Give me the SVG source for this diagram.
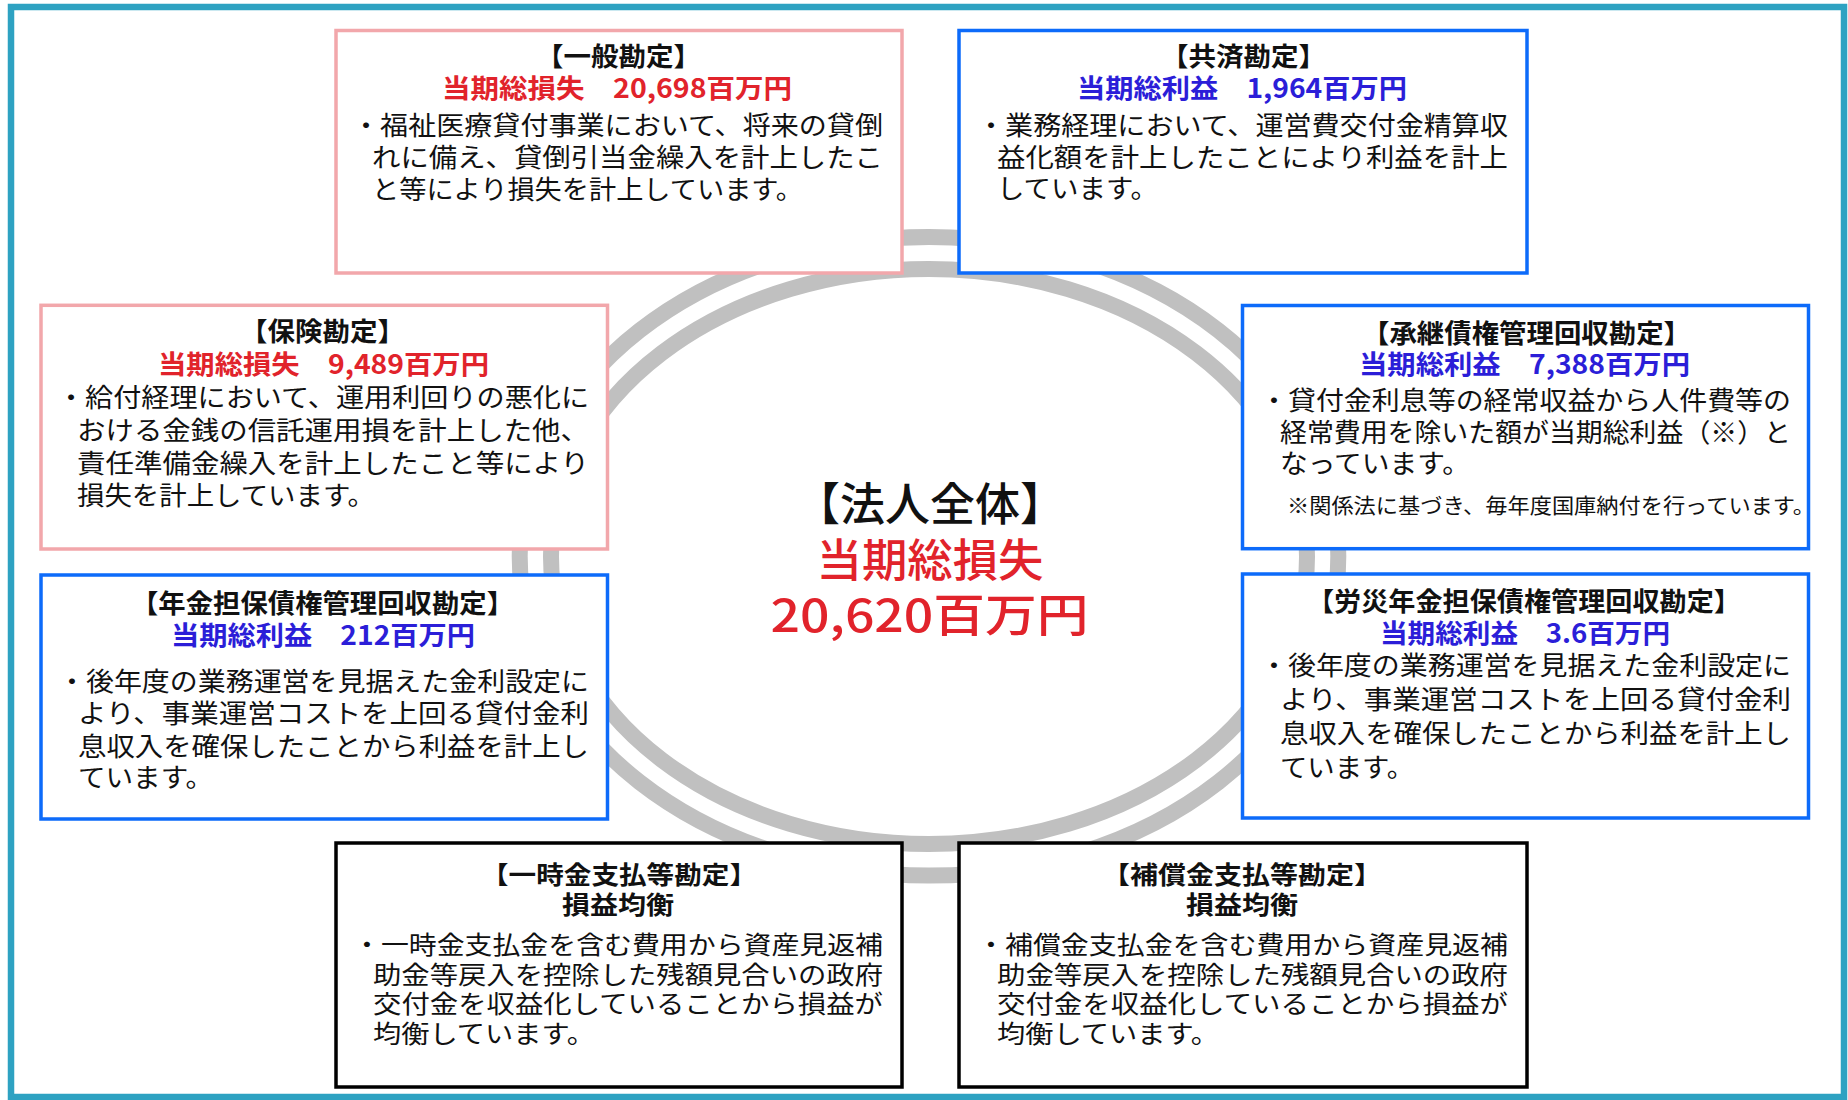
<svg xmlns="http://www.w3.org/2000/svg" width="1848" height="1100" viewBox="0 0 1848 1100">
<style>
text{font-family:"Noto Sans CJK JP","Noto Sans",sans-serif;}
.hdr{text-anchor:middle;font-weight:700}
.ttl{font-size:26px;fill:#111}
.ttl2{font-size:24.5px;fill:#111}
.red{font-size:26.5px;fill:#E1232B}
.blu{font-size:26.5px;fill:#2B1ED8}
.body{font-size:26px;fill:#111}
.body2{font-size:24.5px;fill:#111}
.note{font-size:21px;fill:#111}
.boxp{fill:#fff;stroke:#F2A7AB;stroke-width:3.5}
.boxb{fill:#fff;stroke:#0D6BFA;stroke-width:3.5}
.boxk{fill:#fff;stroke:#000;stroke-width:3.5}
.ring{fill:none;stroke:#C0C0C0;stroke-width:16}
.cen{font-size:45px;text-anchor:middle;font-weight:500}
</style>
<rect x="0" y="0" width="1848" height="1100" fill="#fff"/>
<rect x="11" y="7" width="1833" height="1090" fill="none" stroke="#2EA2C2" stroke-width="6.5"/>
<g id="connectors">
<ellipse class="ring" cx="929" cy="556.3" rx="409.3" ry="319.3"/>
<ellipse class="ring" cx="929" cy="556.5" rx="378" ry="287.5"/>
</g>
<g id="center">
<text class="cen"><tspan x="930" y="521" fill="#111" textLength="270" lengthAdjust="spacingAndGlyphs">【法人全体】</tspan><tspan x="930" y="577" fill="#E1232B" textLength="227" lengthAdjust="spacingAndGlyphs">当期総損失</tspan><tspan x="929.5" y="632" fill="#E1232B" textLength="318" lengthAdjust="spacingAndGlyphs">20,620百万円</tspan></text>
</g>
<g id="ippan">
<rect class="boxp" x="336" y="30.5" width="566" height="242.5"/>
<text class="hdr"><tspan class="ttl" x="618.5" y="66" textLength="165" lengthAdjust="spacingAndGlyphs">【一般勘定】</tspan><tspan class="red" x="617" y="98" textLength="350" lengthAdjust="spacingAndGlyphs">当期総損失　20,698百万円</tspan></text>
<text class="body"><tspan x="352" y="135" textLength="531" lengthAdjust="spacingAndGlyphs">・福祉医療貸付事業において、将来の貸倒</tspan><tspan x="372" y="167" textLength="511" lengthAdjust="spacingAndGlyphs">れに備え、貸倒引当金繰入を計上したこ</tspan><tspan x="372" y="199" textLength="431" lengthAdjust="spacingAndGlyphs">と等により損失を計上しています。</tspan></text>
</g>
<g id="kyosai">
<rect class="boxb" x="959" y="30.5" width="568" height="242.5"/>
<text class="hdr"><tspan class="ttl" x="1243.5" y="66" textLength="165" lengthAdjust="spacingAndGlyphs">【共済勘定】</tspan><tspan class="blu" x="1242" y="98" textLength="330" lengthAdjust="spacingAndGlyphs">当期総利益　1,964百万円</tspan></text>
<text class="body"><tspan x="977" y="135" textLength="531" lengthAdjust="spacingAndGlyphs">・業務経理において、運営費交付金精算収</tspan><tspan x="997" y="167" textLength="511" lengthAdjust="spacingAndGlyphs">益化額を計上したことにより利益を計上</tspan><tspan x="997" y="198" textLength="161" lengthAdjust="spacingAndGlyphs">しています。</tspan></text>
</g>
<g id="hoken">
<rect class="boxp" x="41" y="305.3" width="566.5" height="243.7"/>
<text class="hdr"><tspan class="ttl" x="322.5" y="341" textLength="165" lengthAdjust="spacingAndGlyphs">【保険勘定】</tspan><tspan class="red" x="323.5" y="374" textLength="331" lengthAdjust="spacingAndGlyphs">当期総損失　9,489百万円</tspan></text>
<text class="body"><tspan x="57" y="407" textLength="532" lengthAdjust="spacingAndGlyphs">・給付経理において、運用利回りの悪化に</tspan><tspan x="77" y="440" textLength="512" lengthAdjust="spacingAndGlyphs">おける金銭の信託運用損を計上した他、</tspan><tspan x="77" y="473" textLength="512" lengthAdjust="spacingAndGlyphs">責任準備金繰入を計上したこと等により</tspan><tspan x="77" y="505" textLength="298" lengthAdjust="spacingAndGlyphs">損失を計上しています。</tspan></text>
</g>
<g id="shokei">
<rect class="boxb" x="1242.5" y="305.5" width="566" height="243.2"/>
<text class="hdr"><tspan class="ttl" x="1526.5" y="343" textLength="329" lengthAdjust="spacingAndGlyphs">【承継債権管理回収勘定】</tspan><tspan class="blu" x="1524.5" y="374" textLength="331" lengthAdjust="spacingAndGlyphs">当期総利益　7,388百万円</tspan></text>
<text class="body"><tspan x="1260" y="410" textLength="531" lengthAdjust="spacingAndGlyphs">・貸付金利息等の経常収益から人件費等の</tspan><tspan x="1280" y="442" textLength="511" lengthAdjust="spacingAndGlyphs">経常費用を除いた額が当期総利益（※）と</tspan><tspan x="1280" y="473" textLength="190" lengthAdjust="spacingAndGlyphs">なっています。</tspan><tspan class="note" x="1287" y="513" textLength="528" lengthAdjust="spacingAndGlyphs">※関係法に基づき、毎年度国庫納付を行っています。</tspan></text>
</g>
<g id="nenkin">
<rect class="boxb" x="41" y="575" width="566.5" height="244"/>
<text class="hdr"><tspan class="ttl" x="322.5" y="613" textLength="383" lengthAdjust="spacingAndGlyphs">【年金担保債権管理回収勘定】</tspan><tspan class="blu" x="323" y="645" textLength="304" lengthAdjust="spacingAndGlyphs">当期総利益　212百万円</tspan></text>
<text class="body"><tspan x="58" y="691" textLength="531" lengthAdjust="spacingAndGlyphs">・後年度の業務運営を見据えた金利設定に</tspan><tspan x="78" y="723" textLength="511" lengthAdjust="spacingAndGlyphs">より、事業運営コストを上回る貸付金利</tspan><tspan x="78" y="756" textLength="511" lengthAdjust="spacingAndGlyphs">息収入を確保したことから利益を計上し</tspan><tspan x="78" y="787" textLength="135" lengthAdjust="spacingAndGlyphs">ています。</tspan></text>
</g>
<g id="rosai">
<rect class="boxb" x="1242.5" y="574" width="566" height="244"/>
<text class="hdr"><tspan class="ttl" x="1524" y="611" textLength="434" lengthAdjust="spacingAndGlyphs">【労災年金担保債権管理回収勘定】</tspan><tspan class="blu" x="1525" y="643" textLength="290" lengthAdjust="spacingAndGlyphs">当期総利益　3.6百万円</tspan></text>
<text class="body"><tspan x="1260" y="675" textLength="531" lengthAdjust="spacingAndGlyphs">・後年度の業務運営を見据えた金利設定に</tspan><tspan x="1280" y="709" textLength="511" lengthAdjust="spacingAndGlyphs">より、事業運営コストを上回る貸付金利</tspan><tspan x="1280" y="743" textLength="511" lengthAdjust="spacingAndGlyphs">息収入を確保したことから利益を計上し</tspan><tspan x="1280" y="777" textLength="134" lengthAdjust="spacingAndGlyphs">ています。</tspan></text>
</g>
<g id="ichijikin">
<rect class="boxk" x="336" y="843" width="566" height="244"/>
<text class="hdr"><tspan class="ttl2" x="619" y="884" textLength="276" lengthAdjust="spacingAndGlyphs">【一時金支払等勘定】</tspan><tspan class="ttl2" x="618" y="914" textLength="112" lengthAdjust="spacingAndGlyphs">損益均衡</tspan></text>
<text class="body2"><tspan x="353" y="954" textLength="530" lengthAdjust="spacingAndGlyphs">・一時金支払金を含む費用から資産見返補</tspan><tspan x="373" y="984" textLength="510" lengthAdjust="spacingAndGlyphs">助金等戻入を控除した残額見合いの政府</tspan><tspan x="373" y="1013" textLength="510" lengthAdjust="spacingAndGlyphs">交付金を収益化していることから損益が</tspan><tspan x="373" y="1043" textLength="222" lengthAdjust="spacingAndGlyphs">均衡しています。</tspan></text>
</g>
<g id="hoshokin">
<rect class="boxk" x="959" y="843" width="568" height="244"/>
<text class="hdr"><tspan class="ttl2" x="1242" y="884" textLength="280" lengthAdjust="spacingAndGlyphs">【補償金支払等勘定】</tspan><tspan class="ttl2" x="1242" y="914" textLength="112" lengthAdjust="spacingAndGlyphs">損益均衡</tspan></text>
<text class="body2"><tspan x="977" y="954" textLength="531" lengthAdjust="spacingAndGlyphs">・補償金支払金を含む費用から資産見返補</tspan><tspan x="997" y="984" textLength="511" lengthAdjust="spacingAndGlyphs">助金等戻入を控除した残額見合いの政府</tspan><tspan x="997" y="1013" textLength="511" lengthAdjust="spacingAndGlyphs">交付金を収益化していることから損益が</tspan><tspan x="997" y="1043" textLength="222" lengthAdjust="spacingAndGlyphs">均衡しています。</tspan></text>
</g>
</svg>
